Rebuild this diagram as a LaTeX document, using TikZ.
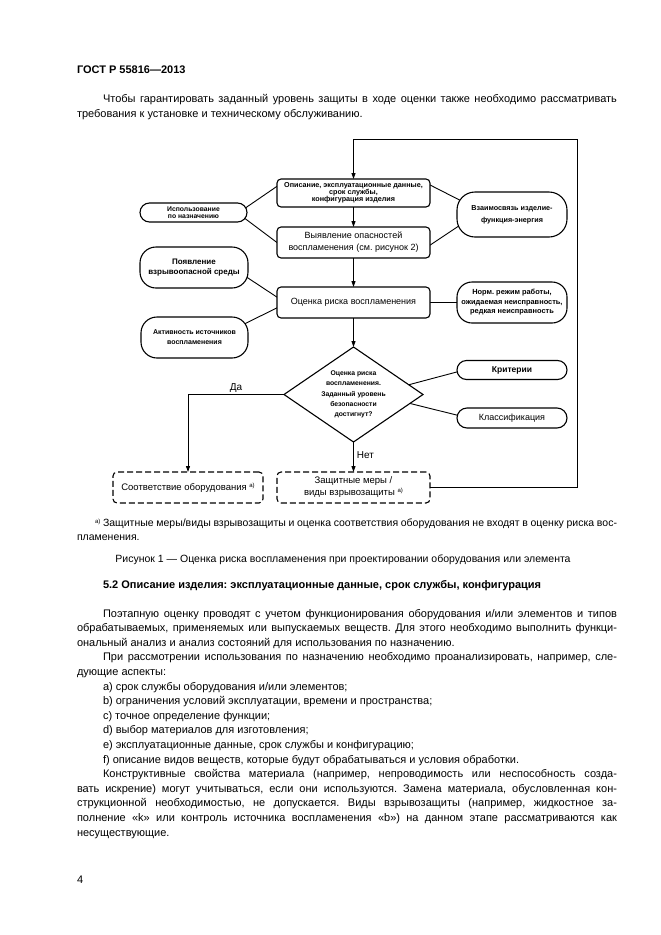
\documentclass[tikz,border=0pt]{standalone}
\usepackage{fontspec}
\setmainfont{Liberation Sans}
\usetikzlibrary{shapes.geometric,arrows.meta,calc}
\pgfdeclarelayer{background}
\pgfdeclarelayer{paper}
\pgfsetlayers{paper,background,main}
\frenchspacing
\newcommand{\bodyf}{\fontsize{11}{14.6}\selectfont}
\newcommand{\fnf}{\fontsize{10.5}{13.5}\selectfont}
\newcommand{\supa}{\raisebox{3pt}{\fontsize{6}{6}\selectfont а)}}
\newcommand{\JL}[4]{\node[tl] (#1) at (#2) {\hbox to #3pt{#4}};}
\newcommand{\NL}[3]{\node[tl] (#1) at (#2) {#3};}
\tikzset{
  nbox/.style={draw, line width=1.1pt, rounded corners=4pt, fill=white, inner sep=0pt, outer sep=0pt, minimum width=153pt, align=center},
  npill/.style={draw, line width=1.1pt, rounded corners=#1, fill=white, inner sep=0pt, outer sep=0pt, align=center},
  dnbox/.style={nbox, dash pattern=on 6pt off 3pt},
  conn/.style={line width=0.9pt, shorten <=-4pt, shorten >=-4pt},
  arr/.style={line width=0.9pt, -{Triangle[length=6pt,width=4pt]}},
  tl/.style={anchor=base west, inner sep=0pt, outer sep=0pt, font=\bodyf},
  lbl/.style={inner sep=1pt, font=\fontsize{10}{12}\selectfont},
}
\begin{document}
\begin{tikzpicture}[x=1pt,y=-1pt]
\useasboundingbox (0,0) rectangle (661,935);
\begin{pgfonlayer}{paper}
\fill[white] (0,0) rectangle (661,935);
\end{pgfonlayer}

% ---- page text, top ----
\node[tl, font=\bodyf\bfseries] (hdr) at (77,73) {ГОСТ Р 55816—2013};
\JL{i1}{103,102}{514}{Чтобы гарантировать заданный уровень защиты в ходе оценки также необходимо рассматривать}
\NL{i2}{77,117}{требования к установке и техническому обслуживанию.}

% ---- diagram nodes ----
\node[nbox, minimum height=28pt, font=\fontsize{7.2}{6.8}\selectfont\bfseries] (desc) at (353.5,193)
  {Описание, эксплуатационные данные,\\срок службы,\\конфигурация изделия};
\node[nbox, minimum height=31pt, font=\fontsize{9}{12}\selectfont] (ident) at (353.5,242.5)
  {Выявление опасностей\\воспламенения (см. рисунок 2)};
\node[nbox, minimum height=31pt, font=\fontsize{9}{12}\selectfont] (risk) at (353.5,302.5)
  {Оценка риска воспламенения};
\node[npill=9.5pt, minimum width=107pt, minimum height=19pt, font=\fontsize{6.8}{6.5}\selectfont\bfseries] (use) at (193.5,212.5)
  {Использование\\по назначению};
\node[npill=18pt, minimum width=110pt, minimum height=45pt, font=\fontsize{7.2}{11.6}\selectfont\bfseries] (link) at (512,214.5)
  {Взаимосвязь изделие-\\функция-энергия};
\node[npill=16pt, minimum width=108pt, minimum height=41pt, font=\fontsize{8}{10}\selectfont\bfseries] (env) at (194,267.5)
  {Появление\\взрывоопасной среды};
\node[npill=15pt, minimum width=110pt, minimum height=41pt, font=\fontsize{7.4}{9.5}\selectfont\bfseries] (norm) at (512,302.5)
  {Норм. режим работы,\\ожидаемая неисправность,\\редкая неисправность};
\node[npill=16pt, minimum width=107pt, minimum height=41pt, font=\fontsize{7}{10}\selectfont\bfseries] (act) at (194.5,337.5)
  {Активность источников\\воспламенения};
\node[draw, diamond, shape aspect=1.46, line width=1.1pt, fill=white, inner sep=0pt, outer sep=0pt,
      minimum width=139pt, minimum height=95pt, align=center, font=\fontsize{6.8}{10.3}\selectfont\bfseries] (dia) at (353.5,394.5)
  {Оценка риска\\воспламенения.\\Заданный уровень\\безопасности\\достигнут?};
\node[npill=9.5pt, minimum width=110pt, minimum height=19pt, font=\fontsize{8.5}{10}\selectfont\bfseries] (crit) at (512,370)
  {Критерии};
\node[npill=10pt, minimum width=110pt, minimum height=20pt, font=\fontsize{9}{10}\selectfont] (class) at (512,418)
  {Классификация};
\node[dnbox, minimum width=150pt, minimum height=31pt, font=\fontsize{9.5}{12}\selectfont] (conf) at (188,487.5)
  {Соответствие оборудования \supa};
\node[dnbox, minimum height=31pt, font=\fontsize{9.5}{12}\selectfont] (prot) at (353.5,487.5)
  {Защитные меры /\\виды взрывозащиты \supa};

% ---- plain connectors (behind the shapes) ----
\begin{pgfonlayer}{background}
\draw[conn] (use.6) -- (desc.175);
\draw[conn] (use.-8) -- (ident.west);
\draw[conn] (desc.6) -- (link.164);
\draw[conn] (ident.-2) -- (link.193);
\draw[conn] (env.-11) -- (risk.176);
\draw[conn] (act.16) -- (risk.184);
\draw[conn] (risk.east) -- (norm.west);
\draw[conn] (dia.10) -- (crit.182);
\draw[conn] (dia.-9) -- (class.177);
\end{pgfonlayer}

% ---- arrows ----
\draw[arr] (desc) -- (ident);
\draw[arr] (ident) -- (risk);
\draw[arr] (risk) -- (dia);
\draw[arr] (dia) -- node[lbl, pos=0.45, right=2pt] {Нет} (prot);
\draw[arr] (dia.west) -| node[lbl, pos=0.25, above=1pt] {Да} (conf.north);
\coordinate (lpA) at (577,487.5);
\coordinate (lpB) at (577,139);
\draw[arr] (prot.east) -- (lpA) -- (lpB) -| (desc.north);

% ---- page text, bottom ----
\node[tl, font=\fnf] (f1) at (95,526) {\hbox to 522pt{\supa{} Защитные меры/виды взрывозащиты и оценка соответствия оборудования не входят в оценку риска вос-}};
\node[tl, font=\fnf] (f2) at (77,540) {пламенения.};
\node[anchor=base, inner sep=0pt, font=\fnf] (cap) at (343,562) {Рисунок 1 — Оценка риска воспламенения при проектировании оборудования или элемента};
\node[tl, font=\bodyf\bfseries] (h52) at (103,588) {5.2 Описание изделия: эксплуатационные данные, срок службы, конфигурация};

\JL{p1}{103,617}{514}{Поэтапную оценку проводят с учетом функционирования оборудования и/или элементов и типов}
\JL{p2}{77,631.6}{540}{обрабатываемых, применяемых или выпускаемых веществ. Для этого необходимо выполнить функци-}
\NL{p3}{77,646.2}{ональный анализ и анализ состояний для использования по назначению.}
\JL{p4}{103,660.8}{514}{При рассмотрении использования по назначению необходимо проанализировать, например, сле-}
\NL{p5}{77,675.4}{дующие аспекты:}
\NL{p6}{103,690}{a) срок службы оборудования и/или элементов;}
\NL{p7}{103,704.6}{b) ограничения условий эксплуатации, времени и пространства;}
\NL{p8}{103,719.2}{c) точное определение функции;}
\NL{p9}{103,733.8}{d) выбор материалов для изготовления;}
\NL{p10}{103,748.4}{e) эксплуатационные данные, срок службы и конфигурацию;}
\NL{p11}{103,763}{f) описание видов веществ, которые будут обрабатываться и условия обработки.}
\JL{p12}{103,777.6}{514}{Конструктивные свойства материала (например, непроводимость или неспособность созда-}
\JL{p13}{77,792.2}{540}{вать искрение) могут учитываться, если они используются. Замена материала, обусловленная кон-}
\JL{p14}{77,806.8}{540}{струкционной необходимостью, не допускается. Виды взрывозащиты (например, жидкостное за-}
\JL{p15}{77,821.4}{540}{полнение «k» или контроль источника воспламенения «b») на данном этапе рассматриваются как}
\NL{p16}{77,836}{несуществующие.}
\NL{pg}{77,883}{4}
\end{tikzpicture}
\end{document}
